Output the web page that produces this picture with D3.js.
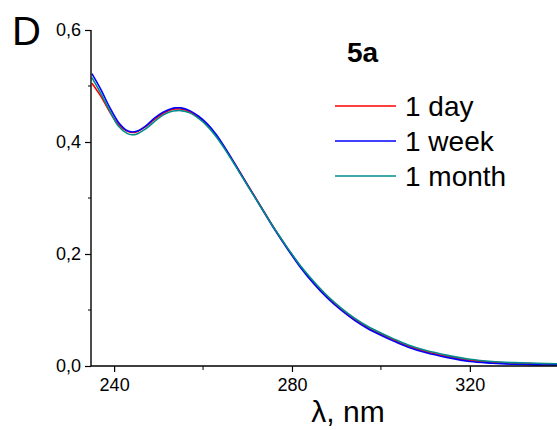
<!DOCTYPE html>
<html>
<head>
<meta charset="utf-8">
<script src="https://cdn.jsdelivr.net/npm/d3@7"></script>
<style>
  body { margin: 0; background: #fff; }
  text { font-family: "Liberation Sans", Arial, sans-serif; fill: #000; }
</style>
</head>
<body>
<svg id="chart" width="557" height="430"></svg>
<script>
// wavelength grid, nm
let wavelengths = [235, 237, 239, 241, 243, 244, 245, 247, 249, 251, 253, 254, 255, 257, 259, 261, 263, 265, 267, 270,
                   273, 276, 279, 282, 285, 288, 291, 294, 297, 300, 303, 306, 310, 315, 320, 325, 330, 335, 340];

let day1   = [0.505, 0.482, 0.454, 0.431, 0.419, 0.417, 0.418, 0.427, 0.440, 0.451, 0.458, 0.459, 0.459, 0.454, 0.444, 0.430, 0.411, 0.388, 0.363, 0.324,
              0.285, 0.246, 0.210, 0.177, 0.148, 0.123, 0.102, 0.084, 0.069, 0.057, 0.046, 0.036, 0.026, 0.017, 0.010, 0.007, 0.005, 0.004, 0.003];
let week1  = [0.522, 0.494, 0.462, 0.435, 0.420, 0.418, 0.419, 0.428, 0.442, 0.453, 0.460, 0.461, 0.461, 0.456, 0.446, 0.432, 0.413, 0.389, 0.363, 0.323,
              0.284, 0.245, 0.209, 0.175, 0.146, 0.121, 0.100, 0.082, 0.067, 0.055, 0.044, 0.034, 0.024, 0.015, 0.008, 0.005, 0.003, 0.002, 0.002];
let month1 = [0.515, 0.487, 0.456, 0.428, 0.415, 0.413, 0.414, 0.423, 0.436, 0.448, 0.455, 0.456, 0.456, 0.452, 0.442, 0.428, 0.409, 0.386, 0.361, 0.322,
              0.284, 0.246, 0.211, 0.178, 0.150, 0.125, 0.104, 0.086, 0.071, 0.059, 0.048, 0.038, 0.028, 0.019, 0.012, 0.008, 0.006, 0.005, 0.004];

let seriesNames  = ['1 day', '1 week', '1 month'];
let seriesColors = ['#ff0000', '#0000ff', '#008b8b'];
let xTicks = [240, 280, 320];
let xMinor = [260, 300, 340];
let yTicks = [0, 0.2, 0.4, 0.6];
let yMinor = [0.1, 0.3, 0.5];

let svg     = d3.select('#chart'),
    padLeft = 91,
    padRight = 557,
    padTop  = 30,
    padBottom = 366;

let x = d3.scaleLinear().domain([234.8, 339.6]).range([padLeft, padRight]),
    y = d3.scaleLinear().domain([0, 0.6]).range([padBottom, padTop]);

let fmt = (d) => d3.format('.1f')(d).replace('.', ',');

// clip so curves stay inside the plot
svg.append('clipPath').attr('id', 'plot-clip')
   .append('rect').attr('x', padLeft).attr('y', 0).attr('width', padRight - padLeft).attr('height', padBottom);

let line = d3.line()
    .x((d) => x(d[0]))
    .y((d) => y(d[1]))
    .curve(d3.curveCatmullRom);

let plot = svg.append('g').attr('clip-path', 'url(#plot-clip)');
[day1, week1, month1].forEach((vals, i) => {
  plot.append('path')
      .datum(wavelengths.map((w, j) => [w, vals[j]]))
      .attr('fill', 'none')
      .attr('stroke', seriesColors[i])
      .attr('stroke-width', 1.6)
      .attr('d', line);
});

// axes
let yAxis = svg.append('g').attr('transform', 'translate(' + padLeft + ',0)')
    .call(d3.axisLeft(y).tickValues(yTicks).tickSize(6).tickPadding(4).tickFormat(fmt));
yAxis.append('g').selectAll('line').data(yMinor).join('line')
    .attr('x1', -3).attr('x2', 0).attr('y1', (d) => y(d)).attr('y2', (d) => y(d)).attr('stroke', '#000');

let xAxis = svg.append('g').attr('transform', 'translate(0,' + padBottom + ')')
    .call(d3.axisBottom(x).tickValues(xTicks).tickSize(6).tickPadding(6));
xAxis.append('g').selectAll('line').data(xMinor).join('line')
    .attr('x1', (d) => x(d)).attr('x2', (d) => x(d)).attr('y1', 0).attr('y2', 4).attr('stroke', '#000');

[xAxis, yAxis].forEach((a) => {
  a.select('.domain').attr('stroke-width', 1.4);
  a.selectAll('.tick line').attr('stroke-width', 1.2);
  a.selectAll('text').style('font-size', '18px').style('font-family', '"Liberation Sans", Arial, sans-serif');
});
yAxis.select('.domain').attr('d', 'M0,' + padTop + 'V' + padBottom);
xAxis.select('.domain').attr('d', 'M' + padLeft + ',0H' + padRight);

// axis title
svg.append('text').attr('x', 348).attr('y', 422).attr('text-anchor', 'middle')
   .style('font-size', '30px').text('λ, nm');

// panel letter and sample label
svg.append('text').attr('x', 12).attr('y', 45).style('font-size', '40px').text('D');
svg.append('text').attr('x', 347).attr('y', 62).style('font-size', '28px').style('font-weight', 'bold').text('5a');

// legend
let legend = svg.append('g');
seriesNames.forEach((name, i) => {
  let ly = 106 + i * 35;
  legend.append('line').attr('x1', 335).attr('x2', 396).attr('y1', ly).attr('y2', ly)
        .attr('stroke', seriesColors[i]).attr('stroke-width', 1.6);
  legend.append('text').attr('x', 405).attr('y', ly + 10).style('font-size', '28px').text(name);
});
</script>
</body>
</html>
